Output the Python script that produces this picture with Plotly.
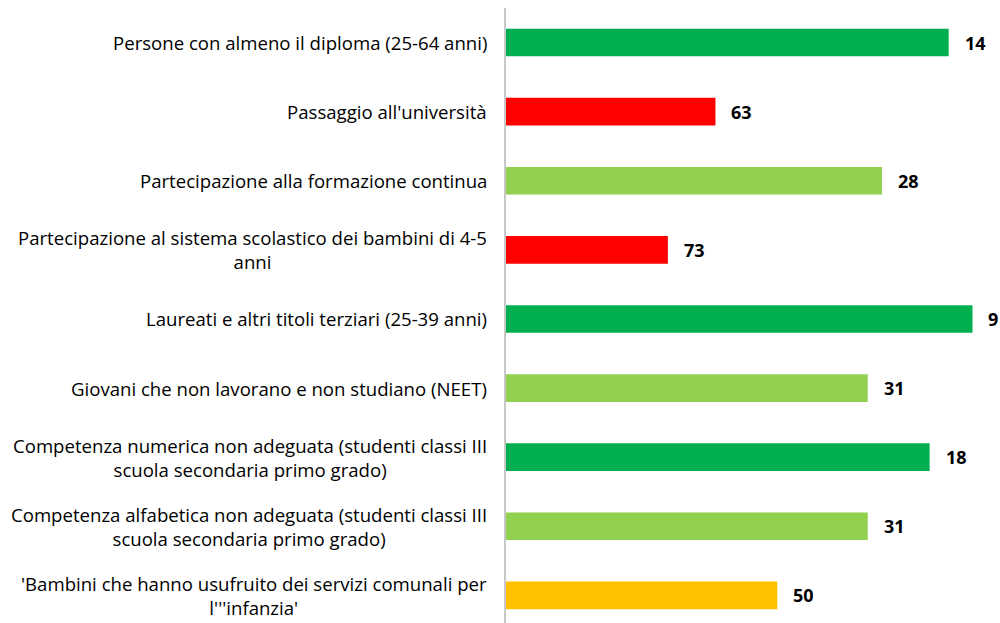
import plotly.graph_objects as go

categories = [
    "Persone con almeno il diploma (25-64 anni)",
    "Passaggio all'università",
    "Partecipazione alla formazione continua",
    "Partecipazione al sistema scolastico dei bambini di 4-5<br>anni",
    "Laureati e altri titoli terziari (25-39 anni)",
    "Giovani che non lavorano e non studiano (NEET)",
    "Competenza numerica non adeguata (studenti classi III<br>scuola secondaria primo grado)",
    "Competenza alfabetica non adeguata (studenti classi III<br>scuola secondaria primo grado)",
    "'Bambini che hanno usufruito dei servizi comunali per<br>l'''infanzia'",
]
# bar lengths
bar_values = [93, 44, 79, 34, 98, 76, 89, 76, 57]
# rank labels shown at bar ends
rank_labels = [14, 63, 28, 73, 9, 31, 18, 31, 50]
bar_colors = ["#00B050", "#FF0000", "#92D050", "#FF0000", "#00B050",
              "#92D050", "#00B050", "#92D050", "#FFC000"]

FONT = "Open Sans"

fig = go.Figure()
fig.add_trace(go.Bar(
    x=bar_values,
    y=categories,
    orientation="h",
    marker=dict(color=bar_colors, line=dict(width=0)),
    width=0.4,
    hoverinfo="skip",
))

for cat, val, lab in zip(categories, bar_values, rank_labels):
    fig.add_annotation(
        x=val, y=cat, xref="x", yref="y",
        text=str(lab), showarrow=False,
        xanchor="left", yanchor="middle", xshift=14,
        font=dict(family=FONT, size=18, color="#000000", weight="bold"),
    )
    fig.add_annotation(
        x=0, y=cat, xref="paper", yref="y",
        text=cat, showarrow=False,
        xanchor="right", yanchor="middle", xshift=-17, align="center",
        font=dict(family=FONT, size=18.6, color="#000000"),
    )

fig.update_layout(
    width=1000, height=623,
    margin=dict(l=506, r=18, t=8, b=0),
    paper_bgcolor="white", plot_bgcolor="white",
    showlegend=False,
    bargap=0.6,
    xaxis=dict(range=[0, 100], showgrid=False, zeroline=False,
               showticklabels=False, showline=False, fixedrange=True),
    yaxis=dict(type="category", range=[8.4, -0.5], showgrid=False,
               zeroline=False, showticklabels=False,
               showline=True, linecolor="#C8C8C8", linewidth=2,
               ticks="", fixedrange=True),
)

# remove the default page margin so the 1000x623 figure fills the window exactly
fig.write_html(
    "out.html",
    config={"displayModeBar": False, "staticPlot": True},
    post_script="document.body.style.margin='0';document.body.style.overflow='hidden';",
)
